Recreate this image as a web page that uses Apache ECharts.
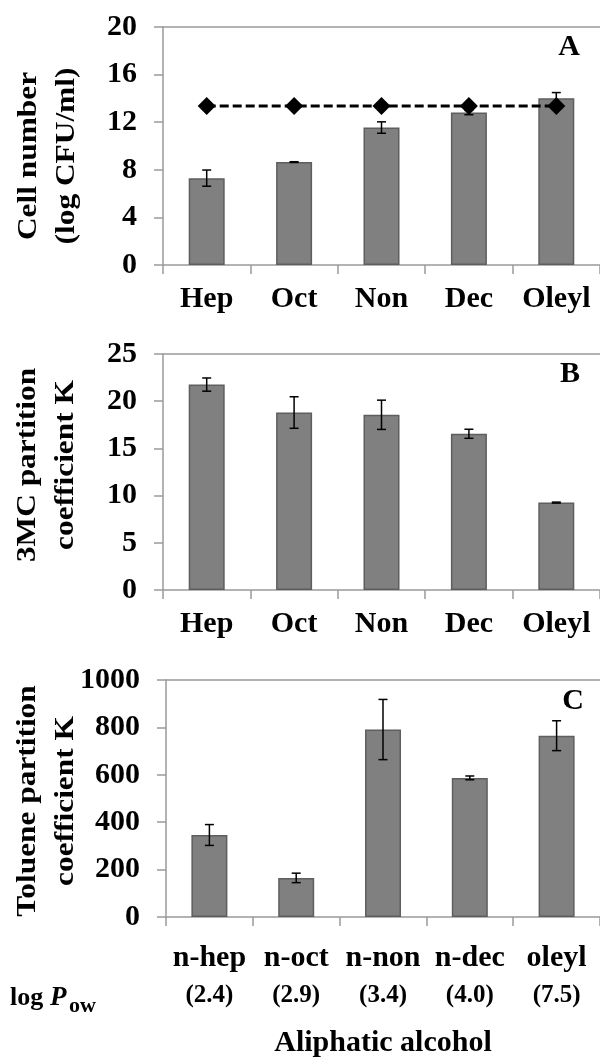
<!DOCTYPE html>
<html>
<head>
<meta charset="utf-8">
<script src="https://cdn.jsdelivr.net/npm/echarts@6/dist/echarts.min.js"></script>
<style>
html,body{margin:0;padding:0;background:#fff;}
#chart{width:600px;height:1062px;}
</style>
</head>
<body>
<div id="chart"></div>
<script>
// ---- data ----
const catsAB = ['Hep', 'Oct', 'Non', 'Dec', 'Oleyl'];
const catsC = ['n-hep', 'n-oct', 'n-non', 'n-dec', 'oleyl'];
const logPow = ['2.4', '2.9', '3.4', '4.0', '7.5'];

const cellNumber = [7.3, 8.65, 11.55, 12.81, 14.02];
const cellNumberErr = [0.68, 0.03, 0.48, 0.18, 0.47];
const cellControl = [13.37, 13.37, 13.37, 13.37, 13.37];

const k3MC = [21.76, 18.8, 18.56, 16.55, 9.26];
const k3MCErr = [0.7, 1.67, 1.55, 0.48, 0.05];

const kToluene = [346, 165, 791, 587, 765];
const kTolueneErr = [44, 20, 127, 8, 63];

const ticksA = {min: 0, max: 20, interval: 4};
const ticksB = {min: 0, max: 25, interval: 5};
const ticksC = {min: 0, max: 1000, interval: 200};

// ---- styles ----
const FONT = '"Liberation Serif", "Times New Roman", serif';
const AXIS_GREY = '#9a9a9a';
const BAR_FILL = '#808080';
const BAR_EDGE = '#5e5e5e';

function errItem(params, api) {
  const x = api.value(0), y = api.value(1), e = api.value(2);
  const top = api.coord([x, y + e]);
  const bot = api.coord([x, y - e]);
  const cw = 4.5;
  const st = {stroke: '#000', lineWidth: 1.5};
  return {
    type: 'group',
    children: [
      {type: 'line', shape: {x1: top[0], y1: top[1], x2: bot[0], y2: bot[1]}, style: st},
      {type: 'line', shape: {x1: top[0] - cw, y1: top[1], x2: top[0] + cw, y2: top[1]}, style: st},
      {type: 'line', shape: {x1: bot[0] - cw, y1: bot[1], x2: bot[0] + cw, y2: bot[1]}, style: st}
    ]
  };
}

function catAxis(gridIndex, cats, extra) {
  return Object.assign({
    type: 'category', gridIndex: gridIndex, data: cats,
    boundaryGap: true,
    axisLine: {lineStyle: {color: AXIS_GREY, width: 1.5}},
    axisTick: {show: true, length: 9, lineStyle: {color: AXIS_GREY, width: 1.5}},
    axisLabel: {color: '#000', fontFamily: FONT, fontWeight: 'bold', fontSize: 30, margin: 19, interval: 0}
  }, extra || {});
}
function topAxis(gridIndex, cats) {
  return {
    type: 'category', gridIndex: gridIndex, data: cats, position: 'top',
    axisLine: {lineStyle: {color: AXIS_GREY, width: 1.5}},
    axisTick: {show: false}, axisLabel: {show: false}
  };
}
function valAxis(gridIndex, t) {
  return {
    type: 'value', gridIndex: gridIndex, min: t.min, max: t.max, interval: t.interval,
    axisLine: {show: true, lineStyle: {color: AXIS_GREY, width: 1.5}},
    axisTick: {show: true, length: 9, lineStyle: {color: AXIS_GREY, width: 1.5}},
    splitLine: {show: false},
    axisLabel: {color: '#000', fontFamily: FONT, fontWeight: 'bold', fontSize: 30, margin: 26,
      formatter: function (v) { return String(v); }}
  };
}
function barSeries(xi, yi, vals) {
  return {
    type: 'bar', xAxisIndex: xi, yAxisIndex: yi, data: vals, barWidth: 36,
    itemStyle: {color: BAR_FILL, borderColor: BAR_EDGE, borderWidth: 1.5},
    silent: true, animation: false, z: 2
  };
}
function errSeries(xi, yi, vals, errs) {
  return {
    type: 'custom', xAxisIndex: xi, yAxisIndex: yi,
    data: vals.map((v, i) => [i, v, errs[i]]),
    encode: {x: 0, y: 1},
    renderItem: errItem, silent: true, animation: false, z: 3
  };
}
function titleText(x, y, txt) {
  return {
    type: 'text', x: x, y: y, rotation: Math.PI / 2, scaleX: 1.12, scaleY: 1,
    style: {text: txt, align: 'center', verticalAlign: 'middle', fill: '#000',
      font: 'bold 28px ' + FONT, lineHeight: 38}
  };
}
function letter(x, y, txt) {
  return {
    type: 'text', x: x, y: y,
    style: {text: txt, align: 'center', verticalAlign: 'middle', fill: '#000', font: 'bold 30px ' + FONT}
  };
}

const chart = echarts.init(document.getElementById('chart'), null, {renderer: 'canvas'});
chart.setOption({
  animation: false,
  backgroundColor: '#fff',
  grid: [
    {left: 163, right: -3, top: 27, height: 238},
    {left: 163, right: -3, top: 354, height: 236},
    {left: 166, right: -6, top: 680, height: 237}
  ],
  xAxis: [
    catAxis(0, catsAB),
    catAxis(1, catsAB),
    catAxis(2, catsC, {
      axisLabel: {
        interval: 0, margin: 24, color: '#000',
        formatter: function (v, i) { return '{a|' + v + '}\n{b|(' + logPow[i] + ')}'; },
        rich: {
          a: {fontFamily: FONT, fontWeight: 'bold', fontSize: 30, lineHeight: 34, color: '#000'},
          b: {fontFamily: FONT, fontWeight: 'bold', fontSize: 25, lineHeight: 42, color: '#000'}
        }
      },
      name: 'Aliphatic alcohol', nameLocation: 'middle', nameGap: 111,
      nameTextStyle: {fontFamily: FONT, fontWeight: 'bold', fontSize: 30, color: '#000'}
    }),
    topAxis(0, catsAB),
    topAxis(1, catsAB),
    topAxis(2, catsC)
  ],
  yAxis: [valAxis(0, ticksA), valAxis(1, ticksB), valAxis(2, ticksC)],
  series: [
    barSeries(0, 0, cellNumber),
    errSeries(0, 0, cellNumber, cellNumberErr),
    {
      type: 'line', xAxisIndex: 0, yAxisIndex: 0, data: cellControl,
      symbol: 'diamond', symbolSize: 18,
      lineStyle: {color: '#000', width: 3, type: [9, 4]},
      itemStyle: {color: '#000'},
      silent: true, animation: false, z: 4
    },
    barSeries(1, 1, k3MC),
    errSeries(1, 1, k3MC, k3MCErr),
    barSeries(2, 2, kToluene),
    errSeries(2, 2, kToluene, kTolueneErr)
  ],
  graphic: [
    titleText(48, 156, 'Cell number\n(log CFU/ml)'),
    titleText(47, 465, '3MC partition\ncoefficient K'),
    titleText(47, 801, 'Toluene partition\ncoefficient K'),
    letter(569, 47, 'A'),
    letter(570, 374, 'B'),
    letter(573, 701, 'C'),
    {type: 'text', x: 10, y: 998, style: {text: 'log', align: 'left', verticalAlign: 'middle', fill: '#000', font: 'bold 26px ' + FONT}},
    {type: 'text', x: 50, y: 998, style: {text: 'P', align: 'left', verticalAlign: 'middle', fill: '#000', font: 'italic bold 27px ' + FONT}},
    {type: 'text', x: 69, y: 1006, style: {text: 'ow', align: 'left', verticalAlign: 'middle', fill: '#000', font: 'bold 22px ' + FONT}}
  ]
});
</script>
</body>
</html>
